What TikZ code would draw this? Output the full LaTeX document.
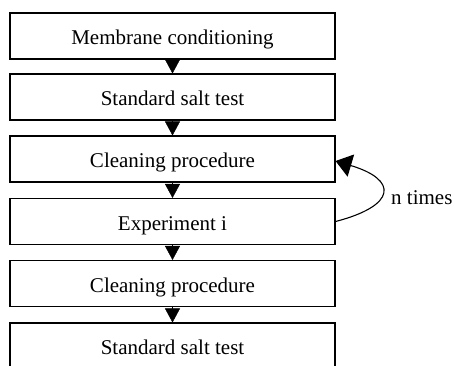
\documentclass[tikz,border=0pt]{standalone}
\usepackage{fontspec}
\setmainfont{Liberation Serif}
\usetikzlibrary{arrows.meta}
\begin{document}
\begin{tikzpicture}[x=1pt,y=-1pt,
  stepbox/.style={draw, line width=1.1pt, minimum width=325pt, minimum height=46pt,
    inner sep=0pt, font=\fontsize{21}{25}\selectfont, text height=17pt, text depth=0pt},
  flow/.style={-{Triangle[width=15pt,length=14pt]}, line width=0.4pt},
  loopback/.style={-{Triangle[width=23pt,length=16pt]}, line width=1.1pt},
  lbl/.style={font=\fontsize{21}{25}\selectfont, inner sep=0pt}]
\useasboundingbox (0,0) rectangle (455,365);
\clip (0,0) rectangle (455,365);
\node[stepbox] (a) at (172.5,36) {Membrane conditioning};
\node[stepbox] (b) at (172.5,97) {Standard salt test};
\node[stepbox] (c) at (172.5,159) {Cleaning procedure};
\node[stepbox] (d) at (172.5,221.5) {Experiment i};
\node[stepbox] (e) at (172.5,283.5) {Cleaning procedure};
\node[stepbox] (f) at (172.5,346) {Standard salt test};
\draw[flow] (a.south) -- (b.north);
\draw[flow] (b.south) -- (c.north);
\draw[flow] (c.south) -- (d.north);
\draw[flow] (d.south) -- (e.north);
\draw[flow] (e.south) -- (f.north);
\draw[loopback] (d.east) .. controls (397,205.5) and (398,179.6) .. ([yshift=-2pt]c.east);
\node[lbl, anchor=base west] (n) at (391,204) {n times};
\end{tikzpicture}
\end{document}
